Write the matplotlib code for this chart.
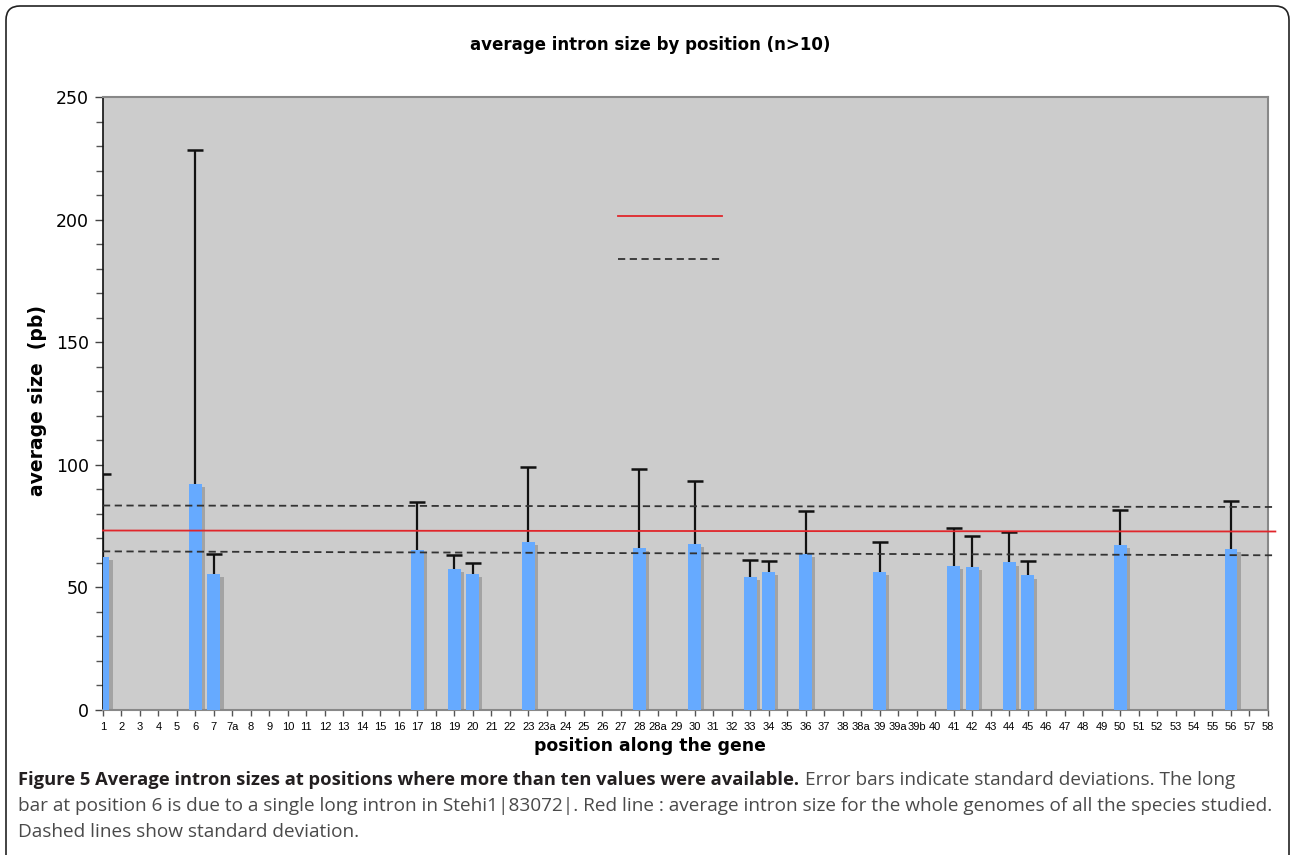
import numpy as np
import matplotlib
matplotlib.use("Agg")
import matplotlib.pyplot as plt
from matplotlib.patches import FancyBboxPatch
from matplotlib.transforms import IdentityTransform
from matplotlib.ticker import MultipleLocator

# categories on the x axis (positions along the gene)
categories = ['1', '2', '3', '4', '5', '6', '7', '7a', '8', '9', '10', '11', '12',
              '13', '14', '15', '16', '17', '18', '19', '20', '21', '22', '23',
              '23a', '24', '25', '26', '27', '28', '28a', '29', '30', '31', '32',
              '33', '34', '35', '36', '37', '38', '38a', '39', '39a', '39b', '40',
              '41', '42', '43', '44', '45', '46', '47', '48', '49', '50', '51',
              '52', '53', '54', '55', '56', '57', '58']

# positions that have a bar (n>10)
bar_pos = ['1', '6', '7', '17', '19', '20', '23', '28', '30', '33', '34', '36',
           '39', '41', '42', '44', '45', '50', '56']
mean_size = [62.5, 92.3, 55.6, 65.3, 57.4, 55.5, 68.6, 66.2, 67.7, 54.2, 56.3,
             63.6, 56.3, 58.9, 58.3, 60.2, 54.9, 67.2, 65.8]
sd_size = [33.7, 135.9, 8.2, 19.5, 5.9, 4.6, 30.6, 32.0, 25.6, 7.0, 4.3,
           17.7, 12.1, 15.3, 12.8, 12.5, 5.7, 14.5, 19.3]

# whole-genome average and +/- sd lines (left end, right end)
genome_mean = [73.2, 72.8]
genome_upper = [83.4, 82.8]
genome_lower = [64.7, 63.1]

fig = plt.figure(figsize=(12.92, 8.55), dpi=100)
ax = fig.add_axes([0.0797, 0.1696, 0.9017, 0.7169])
ax.set_facecolor('#cccccc')

x = np.array([categories.index(p) for p in bar_pos], dtype=float)
m = np.array(mean_size)
s = np.array(sd_size)

# shadow bars then the blue bars
ax.bar(x + 0.17, m - 1.3, width=0.7, color='#a3a3a3', zorder=2)
ax.bar(x, m, width=0.7, color='#66aaff', zorder=3)
# upper error bars only (no cap at the bar top)
ax.vlines(x, m, m + s, color='#111111', lw=1.6, zorder=4)
ax.plot(x, m + s, ls='none', marker='_', ms=12, mew=1.8, color='#111111', zorder=4)

xl = [0, 63.4]
ax.plot(xl, genome_mean, color='#e0262b', lw=1.3, zorder=5, clip_on=False)
ax.plot(xl, genome_upper, color='#333333', lw=1.3, ls=(0, (4, 2.5)), zorder=5, clip_on=False)
ax.plot(xl, genome_lower, color='#333333', lw=1.3, ls=(0, (4, 2.5)), zorder=5, clip_on=False)

# legend lines without text
ax.plot([0.4418, 0.5311], [0.806, 0.806], transform=ax.transAxes, color='#e0262b', lw=1.3, zorder=5)
ax.plot([0.4418, 0.5311], [0.7355, 0.7355], transform=ax.transAxes, color='#333333', lw=1.3,
        ls=(0, (4, 2.5)), zorder=5)

ax.set_xlim(0, 63)
ax.set_ylim(0, 250)
ax.set_xticks(range(len(categories)))
ax.set_xticklabels(categories, fontsize=8, family=['Liberation Sans', 'DejaVu Sans'])
ax.yaxis.set_major_locator(MultipleLocator(50))
ax.yaxis.set_minor_locator(MultipleLocator(10))
ax.tick_params(axis='y', which='major', length=6, width=1, labelsize=12.5, pad=4, colors='#444444',
               labelcolor='black')
ax.tick_params(axis='y', which='minor', length=5, width=1, colors='#555555')
ax.tick_params(axis='x', length=4, width=1, colors='#555555', labelcolor='black', pad=5)

for sp in ['top', 'right', 'bottom']:
    ax.spines[sp].set_color('#888888')
    ax.spines[sp].set_linewidth(1.5)
ax.spines['left'].set_color('#111111')
ax.spines['left'].set_linewidth(1.2)

fig.text(38 / 1292, 1 - 400 / 855, 'average size  (pb)', rotation=90, ha='center', va='center',
         fontsize=13.5, fontweight='bold')
fig.text(650 / 1292, 1 - 746 / 855, 'position along the gene', ha='center', va='center',
         fontsize=12.4, fontweight='bold')
fig.text(0.503, 0.947, 'average intron size by position (n>10)', ha='center', va='center',
         fontsize=12, fontweight='bold')

# rounded border
box = FancyBboxPatch((6, -60), 1283, 909, boxstyle='round,pad=0,rounding_size=14',
                     transform=IdentityTransform(), fill=False, ec='#222222', lw=1.2)
fig.patches.append(box)

# caption
cap_font = ['Open Sans', 'DejaVu Sans']
y1 = 1 - 780 / 855
t1 = fig.text(18 / 1292, y1, 'Figure 5 Average intron sizes at positions where more than ten values were available.',
              fontsize=13.2, fontweight='bold', family=cap_font, color='#231f20', va='center')
fig.canvas.draw()
bb = t1.get_window_extent()
fig.text((bb.x1 + 6) / 1292, y1,
         'Error bars indicate standard deviations. The long',
         fontsize=13.7, family=cap_font, color='#4a4a4a', va='center')
fig.text(18 / 1292, 1 - 806 / 855,
         'bar at position 6 is due to a single long intron in Stehi1|83072|. Red line : average intron size for the whole genomes of all the species studied.',
         fontsize=13.7, family=cap_font, color='#4a4a4a', va='center')
fig.text(18 / 1292, 1 - 832 / 855, 'Dashed lines show standard deviation.',
         fontsize=13.7, family=cap_font, color='#4a4a4a', va='center')

fig.savefig('out.png', dpi=100)
